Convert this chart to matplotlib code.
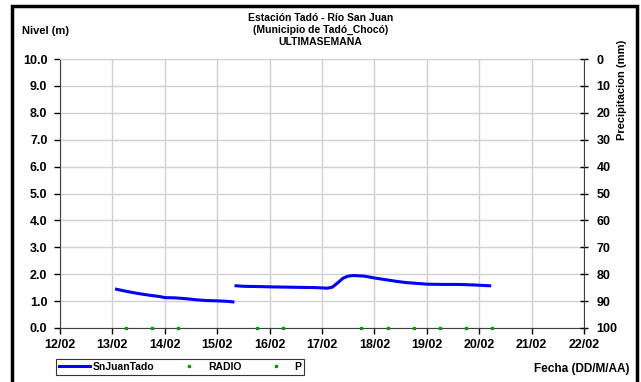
import matplotlib.pyplot as plt
import matplotlib.patches as patches
import numpy as np

plt.rcParams['font.family'] = ['Liberation Sans', 'DejaVu Sans']
plt.rcParams['font.weight'] = 'bold'

# level series (days of February), two pieces with a gap
dias1 = [13.08, 13.3, 13.5, 13.7, 13.9, 14.0, 14.2, 14.4, 14.6, 14.8, 15.0, 15.2, 15.3]
nivel1 = [1.44, 1.35, 1.28, 1.22, 1.17, 1.13, 1.12, 1.09, 1.05, 1.02, 1.01, 0.99, 0.97]
dias2 = [15.36, 15.5, 15.8, 16.0, 16.3, 16.6, 16.9, 17.1, 17.2, 17.3, 17.4, 17.5, 17.6, 17.8,
         18.0, 18.2, 18.4, 18.6, 18.8, 19.0, 19.3, 19.6, 19.9, 20.2]
nivel2 = [1.57, 1.55, 1.54, 1.53, 1.52, 1.51, 1.50, 1.48, 1.52, 1.68, 1.85, 1.93, 1.95, 1.93,
          1.86, 1.80, 1.74, 1.69, 1.66, 1.63, 1.62, 1.62, 1.60, 1.57]

# precipitation points (plotted at 0)
dias_p = [13.25, 13.75, 14.25, 15.75, 16.25, 17.75, 18.25, 18.75, 19.25, 19.75, 20.25]
p = [0, 0, 0, 0, 0, 0, 0, 0, 0, 0, 0]

xticks = [12, 13, 14, 15, 16, 17, 18, 19, 20, 21, 22]
xlabels = ['12/02', '13/02', '14/02', '15/02', '16/02', '17/02', '18/02', '19/02', '20/02', '21/02', '22/02']

fig = plt.figure(figsize=(6.41, 3.82), dpi=100)
ax = fig.add_axes([60/641, 1-328/382, 524/641, 269/382])

ax.plot(dias1, nivel1, color='#0000ff', lw=2.2, label='SnJuanTado')
ax.plot(dias2, nivel2, color='#0000ff', lw=2.2)
ax.plot([], [], 's', color='#00a000', ms=1.8, label='RADIO')
ax.plot(dias_p, p, 's', color='#00a000', ms=1.8, label='P', clip_on=False, zorder=5)

ax.set_xlim(12, 22)
ax.set_ylim(0, 10)
ax.set_xticks(xticks)
ax.set_xticklabels(xlabels)
ax.set_yticks(np.arange(0, 10.5, 1))
ax.set_yticklabels(['%.1f' % v for v in np.arange(0, 10.5, 1)])
ax.grid(True, color='#d0d0d0', lw=1)
ax.set_axisbelow(True)
ax.tick_params(labelsize=9, length=4, width=1, colors='black', direction='out', pad=5)
ax.tick_params(axis='x', pad=4)
for s in ['left', 'bottom']:
    ax.spines[s].set_color('#404040')
ax.spines['top'].set_color('#d0d0d0')
ax.spines['right'].set_visible(False)

ax2 = ax.twinx()
ax2.set_ylim(100, 0)
ax2.set_yticks(np.arange(0, 101, 10))
ax2.tick_params(labelsize=9, length=6, width=1, direction='inout', pad=6)
ax2.spines['right'].set_color('#404040')
for s in ['left', 'top', 'bottom']:
    ax2.spines[s].set_visible(False)

fig.text(0.5, 0.945, 'Estación Tadó - Río San Juan', ha='center', fontsize=7.5, fontweight='bold')
fig.text(0.5, 0.913, '(Municipio de Tadó_Chocó)', ha='center', fontsize=7.5, fontweight='bold')
fig.text(0.5, 0.881, 'ULTIMASEMANA', ha='center', fontsize=7.5, fontweight='bold')
fig.text(22/641, 1-34/382, 'Nivel (m)', fontsize=8, fontweight='bold')
fig.text(622/641, 1-90/382, 'Precipitacion (mm)', rotation=90, ha='center', va='center',
         fontsize=8, fontweight='bold')
fig.text(630/641, 1-372/382, 'Fecha (DD/M/AA)', ha='right', fontsize=8.5, fontweight='bold')

leg = ax.legend(loc='center', bbox_to_anchor=(60/641, 1-377/382, 240/641, 20/382),
                bbox_transform=fig.transFigure, ncol=3, fontsize=7.5, frameon=True,
                fancybox=False, edgecolor='black', handlelength=3, columnspacing=1.8,
                borderpad=0.3, handletextpad=0.3, markerscale=1)
leg.get_frame().set_linewidth(0.8)

fig.patches.append(patches.Rectangle((12/641, -0.05), 625/641, 1.05-6/382, transform=fig.transFigure,
                                     fill=False, edgecolor='black', lw=2.5, clip_on=False))

fig.savefig('out.png', dpi=100)
